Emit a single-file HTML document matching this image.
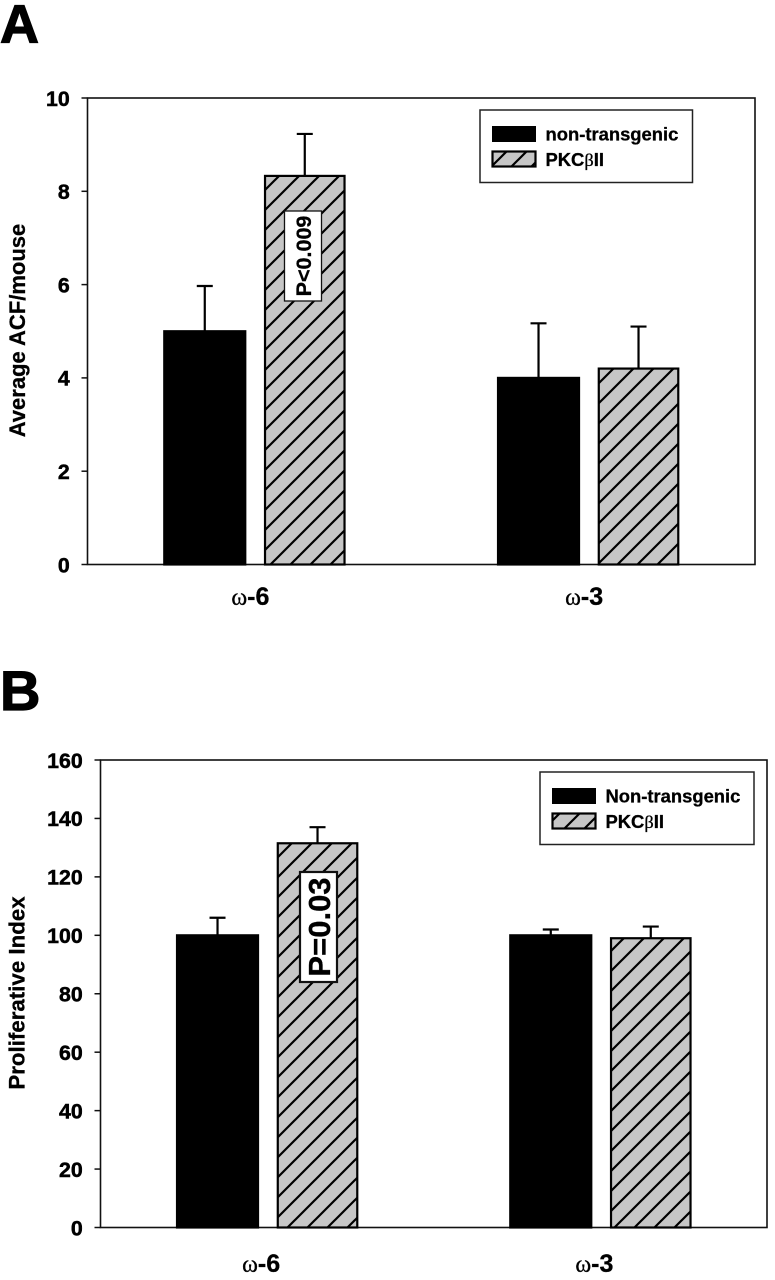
<!DOCTYPE html>
<html>
<head>
<meta charset="utf-8">
<style>
html,body{margin:0;padding:0;background:#fff;width:775px;height:1280px;overflow:hidden}
svg{display:block}
text{font-family:"Liberation Sans",sans-serif;font-weight:bold;fill:#000;stroke:#000;stroke-width:.3px}
</style>
</head>
<body>
<svg id="fig" xmlns="http://www.w3.org/2000/svg" width="775" height="1280" viewBox="0 0 775 1280">
<defs id="defs"></defs>
</svg>
<script>
const categories = ['ω-6', 'ω-3'];
const panelASeriesNames = ['non-transgenic', 'PKC|β|II'];
const panelBSeriesNames = ['Non-transgenic', 'PKC|β|II'];
const panelAControl = [5.0, 4.0];
const panelATransgenic = [8.33, 4.2];
const panelAControlErrorTop = [5.97, 5.17];
const panelATransgenicErrorTop = [9.23, 5.1];
const panelATicks = [0, 2, 4, 6, 8, 10];
const panelBControl = [100, 100];
const panelBTransgenic = [131.5, 99];
const panelBControlErrorTop = [106, 102];
const panelBTransgenicErrorTop = [137, 103];
const panelBTicks = [0, 20, 40, 60, 80, 100, 120, 140, 160];

const NS = 'http://www.w3.org/2000/svg';
const svg = document.getElementById('fig');
const defs = document.getElementById('defs');

function node(tag, attrs, parent, txt) {
  const el = document.createElementNS(NS, tag);
  for (const k in attrs) el.setAttribute(k, attrs[k]);
  if (txt !== undefined) el.textContent = txt;
  (parent || svg).appendChild(el);
  return el;
}

function hatch(id, phase) {
  const pat = node('pattern', {id: id, patternUnits: 'userSpaceOnUse', width: 20, height: 20, patternTransform: 'translate(' + phase + ' 0)'}, defs);
  node('rect', {width: 20, height: 20, fill: '#c6c6c6'}, pat);
  node('path', {d: 'M-4 4L4 -4M0 20L20 0M16 24L24 16', stroke: '#000', 'stroke-width': 2.2}, pat);
  return 'url(#' + id + ')';
}
const hatchFirst = hatch('hatch-first', 15);
const hatchSecond = hatch('hatch-second', 2);
const hatchLegendA = hatch('hatch-legend-a', 18);
const hatchLegendB = hatch('hatch-legend-b', 13);

function drawPanel(p) {
  const g = node('g', {}, svg);
  
  
  const maxV = p.ticks[p.ticks.length - 1];
  const yOf = v => p.bottom - v / maxV * (p.bottom - p.top);
  const band = (p.right - p.left) / p.categories.length;
  const xOf = i => p.left + band * (i + 0.5);

  const letter = node('text', {x: p.letterX, y: p.letterY, 'font-size': p.letterSize, style: 'stroke-width:1.2px'}, g, p.letter);
  
  

  const frame = node('rect', {x: p.left, y: p.top, width: p.right - p.left, height: p.bottom - p.top, fill: '#fff', stroke: '#111', 'stroke-width': 1.6}, g);
  
  

  p.ticks.forEach(t => {
    const y = yOf(t);
    const tick = node('line', {x1: p.left - 6, x2: p.left, y1: y, y2: y, stroke: '#111', 'stroke-width': 1.5}, g);
    
    
    const label = node('text', {x: p.left - 17.8, y: y + 7.8, 'text-anchor': 'end', 'font-size': 21.3, style: 'stroke-width:.5px'}, g, String(t));
    
    
  });

  const title = node('text', {transform: 'translate(' + p.titleX + ' ' + p.titleY + ') rotate(-90)', 'text-anchor': 'middle', 'font-size': p.titleSize}, g, p.title);
  
  

  p.categories.forEach((c, i) => {
    const cx = xOf(i);
    const bars = [
      {v: p.control[i], e: p.controlErr[i], off: -49.6, w: 81, fill: '#000', name: 'bar-control'},
      {v: p.trans[i], e: p.transErr[i], off: 50.4, w: 79.5, fill: i === 0 ? hatchFirst : hatchSecond, name: 'bar-transgenic'}
    ];
    bars.forEach(b => {
      const bx = cx + b.off;
      const err = node('path', {d: 'M' + bx + ' ' + yOf(b.v) + 'V' + yOf(b.e) + 'M' + (bx - 8) + ' ' + yOf(b.e) + 'H' + (bx + 8), stroke: '#000', 'stroke-width': 2.2, fill: 'none'}, g);
      
      
      const bar = node('rect', {x: bx - b.w / 2, y: yOf(b.v), width: b.w, height: p.bottom - yOf(b.v), fill: b.fill, stroke: '#000', 'stroke-width': 2.2}, g);
      
      
    });
    const cat = node('text', {x: cx + p.catDx, y: p.catY, 'text-anchor': 'middle', 'font-size': 25}, g);
    
    
    const om = node('tspan', {'font-family': '"Liberation Serif",serif', 'font-weight': 'normal', 'font-size': 24}, cat, c.charAt(0));
    
    
    const rest = node('tspan', {}, cat, c.slice(1));
    
    
  });

  const box = node('rect', {x: p.pBox[0], y: p.pBox[1], width: p.pBox[2], height: p.pBox[3], fill: '#fff', stroke: '#111', 'stroke-width': p.pStroke}, g);
  
  
  const pt = node('text', {transform: 'translate(' + (p.pBox[0] + p.pBox[2] / 2 + p.pSize * 0.37) + ' ' + (p.pBox[1] + p.pBox[3] / 2) + ') rotate(-90)', 'text-anchor': 'middle', 'font-size': p.pSize}, g, p.pText);
  
  

  const L = p.legend;
  const lg = node('g', {}, g);
  
  
  const lb = node('rect', {x: L.x, y: L.y, width: L.w, height: 72.5, fill: '#fff', stroke: '#222', 'stroke-width': 1.5}, lg);
  
  
  const s1 = node('rect', {x: L.x + 12.5, y: L.y + 16.5, width: 43, height: 15, fill: '#000', stroke: '#000', 'stroke-width': 1}, lg);
  
  
  const s2 = node('rect', {x: L.x + 12.5, y: L.y + 41.5, width: 43, height: 15, fill: L.hatch, stroke: '#000', 'stroke-width': 2.2}, lg);
  
  
  const t1 = node('text', {x: L.x + 65.5, y: L.y + 30.5, 'font-size': 18.4}, lg, p.names[0]);
  
  
  const parts = p.names[1].split('|');
  const t2 = node('text', {x: L.x + 65.5, y: L.y + 56, 'font-size': 18.4}, lg);
  
  
  node('tspan', {}, t2, parts[0]);
  node('tspan', {'font-family': '"Liberation Serif",serif', 'font-weight': 'normal'}, t2, parts[1]);
  node('tspan', {}, t2, parts[2]);
}

drawPanel({
  id: 'panel-a-chart', letter: 'A', letterX: 0, letterY: 42.6, letterSize: 54,
  left: 87.5, right: 755, top: 98, bottom: 564.5,
  ticks: panelATicks, categories: categories,
  control: panelAControl, trans: panelATransgenic,
  controlErr: panelAControlErrorTop, transErr: panelATransgenicErrorTop,
  title: 'Average ACF/mouse', titleX: 25, titleY: 330.5, titleSize: 22,
  catY: 605, catDx: -4, pBox: [284.5, 211, 37, 90], pText: 'P<0.009', pSize: 21.5, pStroke: 1.3,
  names: panelASeriesNames, legend: {x: 480, y: 110, w: 212.5, hatch: hatchLegendA}
});
drawPanel({
  id: 'panel-b-chart', letter: 'B', letterX: 0, letterY: 710, letterSize: 56,
  left: 100.5, right: 767, top: 760, bottom: 1227.5,
  ticks: panelBTicks, categories: categories,
  control: panelBControl, trans: panelBTransgenic,
  controlErr: panelBControlErrorTop, transErr: panelBTransgenicErrorTop,
  title: 'Proliferative Index', titleX: 24.5, titleY: 993, titleSize: 22.3,
  catY: 1272, catDx: -6, pBox: [300, 872, 37, 110], pText: 'P=0.03', pSize: 31, pStroke: 2.2,
  names: panelBSeriesNames, legend: {x: 540, y: 772, w: 214, hatch: hatchLegendB}
});
</script>
</body>
</html>
